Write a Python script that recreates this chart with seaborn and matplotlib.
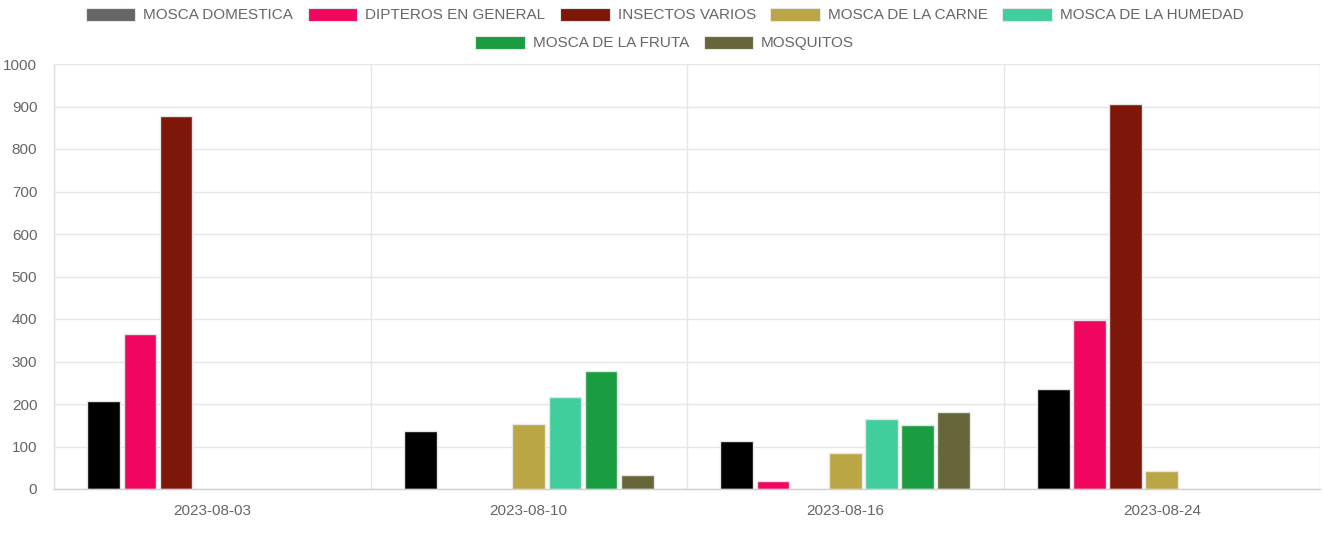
import numpy as np
import pandas as pd
import matplotlib
matplotlib.use("Agg")
import matplotlib.pyplot as plt
from matplotlib.patches import Patch
from matplotlib.ticker import FixedLocator
import seaborn as sns

nan = np.nan
dates = ['2023-08-03', '2023-08-10', '2023-08-16', '2023-08-24']
series_names = ['MOSCA DOMESTICA', 'DIPTEROS EN GENERAL', 'INSECTOS VARIOS',
                'MOSCA DE LA CARNE', 'MOSCA DE LA HUMEDAD', 'MOSCA DE LA FRUTA', 'MOSQUITOS']
domestica = [207, 137, 112, 235]
dipteros = [365, nan, 18, 398]
insectos = [878, nan, nan, 905]
carne = [nan, 153, 84, 42]
humedad = [nan, 217, 164, nan]
fruta = [nan, 278, 151, nan]
mosquitos = [nan, 34, 182, nan]
y_ticks = [0, 100, 200, 300, 400, 500, 600, 700, 800, 900, 1000]

bar_colors = ['#000000', '#F0065F', '#7D170A', '#BBA645', '#40CE9C', '#1A9C40', '#67663A']
legend_colors = ['#666666', '#F0065F', '#7D170A', '#BBA645', '#40CE9C', '#1A9C40', '#67663A']

all_vals = [domestica, dipteros, insectos, carne, humedad, fruta, mosquitos]
rows = []
for name, vals in zip(series_names, all_vals):
    for d, v in zip(dates, vals):
        rows.append({'fecha': d, 'serie': name, 'valor': v})
df = pd.DataFrame(rows)

sns.set_theme(style="white")
plt.rcParams['font.family'] = ['Liberation Sans', 'DejaVu Sans']

FS = 11
fig = plt.figure(figsize=(13.24, 5.47), dpi=100)
ax = fig.add_axes([54/1324, 1-489/547, (1320-54)/1324, (489-64)/547])

sns.barplot(data=df, x='fecha', y='valor', hue='serie', order=dates, hue_order=series_names,
            palette=bar_colors, width=0.8, gap=0.1, dodge=True, ax=ax,
            edgecolor='#e6e6e6', linewidth=1.0, legend=False, saturation=1, errorbar=None)

ax.set_xlim(-0.5, 3.5)
ax.set_ylim(0, 1000)
ax.set_yticks(y_ticks)
ax.set_xlabel('')
ax.set_ylabel('')
ax.xaxis.set_minor_locator(FixedLocator([-0.5, 0.5, 1.5, 2.5, 3.5]))
ax.tick_params(axis='x', which='major', length=0, pad=11, labelsize=FS, labelcolor='#666666')
ax.tick_params(axis='x', which='minor', length=9, color='#e0e0e0', width=1)
ax.tick_params(axis='y', which='major', length=8, color='#e0e0e0', width=1, pad=4,
               labelsize=FS, labelcolor='#666666')
ax.grid(False)
ax.yaxis.grid(True, color='#e6e6e6', linewidth=1)
ax.xaxis.grid(True, which='minor', color='#e6e6e6', linewidth=1)
ax.set_axisbelow(True)
for s in ['top', 'right']:
    ax.spines[s].set_visible(False)
ax.spines['left'].set_color('#e0e0e0')
ax.spines['bottom'].set_color('#cfcfcf')
ax.spines['left'].set_linewidth(1)
ax.spines['bottom'].set_linewidth(1)

handles = [Patch(facecolor=c, edgecolor='#e6e6e6', linewidth=0.8) for c in legend_colors]
leg_kw = dict(frameon=False, fontsize=FS, handlelength=3.25, handleheight=0.92,
              handletextpad=0.52, columnspacing=0.95, labelcolor='#666666', borderaxespad=0)
leg1 = fig.legend(handles[:5], series_names[:5], ncol=5, loc='center',
                  bbox_to_anchor=(0.502, 1-15/547), **leg_kw)
leg2 = fig.legend(handles[5:], series_names[5:], ncol=2, loc='center',
                  bbox_to_anchor=(0.502, 1-43/547), **leg_kw)

fig.savefig('out.png', dpi=100)
